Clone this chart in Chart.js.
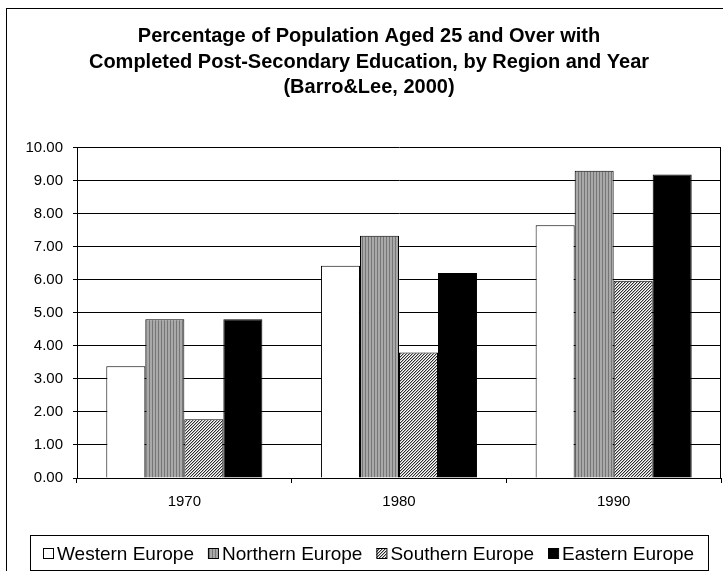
<!DOCTYPE html>
<html>
<head>
<meta charset="utf-8">
<script src="https://cdn.jsdelivr.net/npm/chart.js@4.4.1/dist/chart.umd.min.js"></script>
<style>
  html, body { margin: 0; padding: 0; background: #fff; }
  #wrap { width: 723px; height: 571px; position: relative; }
</style>
</head>
<body>
<div id="wrap"><canvas id="chart"></canvas></div>
<script>
// Share of population aged 25+ with completed post-secondary education (%)
const years = ['1970', '1980', '1990'];
const regions = ['Western Europe', 'Northern Europe', 'Southern Europe', 'Eastern Europe'];
const western  = [3.38, 6.42, 7.65];
const northern = [4.80, 7.33, 9.30];
const southern = [1.78, 3.80, 5.97];
const eastern  = [4.80, 6.20, 9.18];
const titleLines = [
  'Percentage of Population Aged 25 and Over with',
  'Completed Post-Secondary Education, by Region and Year',
  '(Barro&Lee, 2000)'
];
const yMin = 0, yMax = 10, yStep = 1;

const FONT = "'Liberation Sans', Arial, Helvetica, sans-serif";
Chart.defaults.font.family = FONT;
Chart.defaults.color = '#000';

// Fill patterns
function makePattern(size, painter) {
  const c = document.createElement('canvas');
  c.width = size; c.height = size;
  const g = c.getContext('2d');
  painter(g, size);
  return document.createElement('canvas').getContext('2d').createPattern(c, 'repeat');
}
const verticalStripes = makePattern(3, (g, s) => {
  g.fillStyle = '#a9a9a9'; g.fillRect(0, 0, s, s);
  g.fillStyle = '#767676'; g.fillRect(2, 0, 1, s);
});
const diagonalHatch = makePattern(3, (g, s) => {
  g.fillStyle = '#ffffff'; g.fillRect(0, 0, s, s);
  for (let x = 0; x < s; x++) for (let y = 0; y < s; y++) {
    const k = (x + y) % 3;
    if (k === 0) { g.fillStyle = '#2e2e2e'; g.fillRect(x, y, 1, 1); }
    else if (k === 1) { g.fillStyle = '#b4b4b4'; g.fillRect(x, y, 1, 1); }
  }
});

const fills = [
  '#ffffff',
  verticalStripes,
  diagonalHatch,
  '#000000'
];
const seriesValues = [western, northern, southern, eastern];

// Layout constants
const PAD_LEFT = 17, PAD_RIGHT = 2, PAD_BOTTOM = 51;
const Y_AXIS_W = 60, X_AXIS_H = 42;

// Page background and outer frame
const frame = {
  id: 'frame',
  beforeDraw(chart) {
    const ctx = chart.ctx;
    ctx.save();
    ctx.fillStyle = '#fff';
    ctx.fillRect(0, 0, chart.width, chart.height);
    ctx.strokeStyle = '#000';
    ctx.lineWidth = 1;
    ctx.strokeRect(6.5, 8.5, chart.width + 20, chart.height + 20);
    ctx.restore();
  },
  afterDatasetsDraw(chart) {
    // right edge of the plot area
    const a = chart.chartArea, ctx = chart.ctx;
    ctx.save();
    ctx.strokeStyle = '#000';
    ctx.lineWidth = 1;
    ctx.beginPath();
    ctx.moveTo(Math.round(a.right) - 0.5, a.top);
    ctx.lineTo(Math.round(a.right) - 0.5, a.bottom);
    ctx.stroke();
    ctx.restore();
  }
};

// Boxed legend below the axis
const boxedLegend = {
  id: 'boxedLegend',
  afterDraw(chart) {
    const ctx = chart.ctx;
    ctx.save();
    ctx.font = '19px ' + FONT;
    const sq = 11, gapText = 3, gapItem = 14;
    const items = chart.data.datasets.map(ds => ({
      text: ds.label, fill: ds.backgroundColor, w: ctx.measureText(ds.label).width
    }));
    let total = 0;
    items.forEach((it, i) => { total += sq + gapText + it.w + (i ? gapItem : 0); });
    const boxL = 30, boxR = 708, boxT = 535, boxB = 570;
    const cx = (boxL + boxR) / 2;
    ctx.strokeStyle = '#000';
    ctx.lineWidth = 1;
    ctx.strokeRect(boxL + 0.5, boxT + 0.5, boxR - boxL, boxB - boxT);
    let x = Math.round(cx - total / 2);
    const midY = 553;
    items.forEach(it => {
      ctx.fillStyle = it.fill;
      ctx.fillRect(x, midY - 5, sq - 1, sq - 1);
      ctx.strokeRect(x + 0.5, midY - 5 + 0.5, sq - 1, sq - 1);
      ctx.fillStyle = '#000';
      ctx.textBaseline = 'alphabetic';
      ctx.textAlign = 'left';
      ctx.fillText(it.text, x + sq + gapText, 560);
      x += sq + gapText + it.w + gapItem;
    });
    ctx.restore();
  }
};

new Chart(document.getElementById('chart'), {
  type: 'bar',
  data: {
    labels: years,
    datasets: regions.map((name, i) => ({
      label: name,
      data: seriesValues[i],
      backgroundColor: fills[i],
      borderColor: '#000',
      borderWidth: 1,
      borderSkipped: 'bottom',
      categoryPercentage: 0.727,
      barPercentage: 1.0
    }))
  },
  options: {
    responsive: true,
    maintainAspectRatio: false,
    animation: false,
    devicePixelRatio: 1,
    layout: { padding: { left: PAD_LEFT, right: PAD_RIGHT, top: 0, bottom: PAD_BOTTOM } },
    plugins: {
      legend: { display: false },
      tooltip: { enabled: false },
      title: {
        display: true,
        text: titleLines,
        color: '#000',
        font: { size: 20, weight: 'bold', lineHeight: 1.275 },
        padding: { top: 24, bottom: 47 }
      }
    },
    scales: {
      x: {
        grid: { display: true, drawOnChartArea: false, drawTicks: true, tickLength: 5, color: '#000', offset: true },
        border: { display: true, color: '#000', width: 1 },
        ticks: { font: { size: 15 }, color: '#000', padding: 10, maxRotation: 0 },
        afterFit(scale) { scale.height = X_AXIS_H; }
      },
      y: {
        min: yMin, max: yMax,
        grid: { color: '#000', lineWidth: 1, tickLength: 4, drawTicks: true },
        border: { display: true, color: '#000', width: 1 },
        ticks: {
          stepSize: yStep,
          font: { size: 15 },
          color: '#000',
          padding: 10,
          callback: v => Number(v).toFixed(2)
        },
        afterFit(scale) { scale.width = Y_AXIS_W; }
      }
    }
  },
  plugins: [frame, boxedLegend]
});
</script>
</body>
</html>
